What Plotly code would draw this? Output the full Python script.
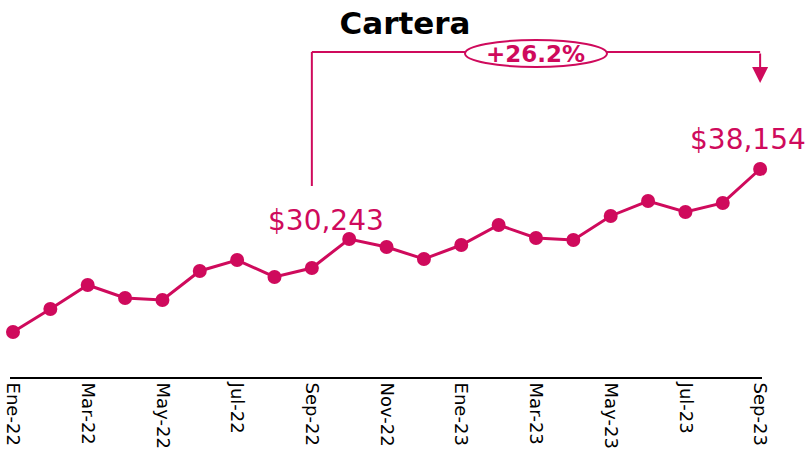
import plotly.graph_objects as go

# Monthly portfolio balance (Cartera), Jan-2022 to Sep-2023
months = ["Ene-22", "Feb-22", "Mar-22", "Abr-22", "May-22", "Jun-22", "Jul-22",
          "Ago-22", "Sep-22", "Oct-22", "Nov-22", "Dic-22", "Ene-23", "Feb-23",
          "Mar-23", "Abr-23", "May-23", "Jun-23", "Jul-23", "Ago-23", "Sep-23"]
cartera = [25130, 26970, 28885, 27845, 27685, 30005, 30880, 29525, 30243, 32560,
           31920, 30960, 32080, 33680, 32640, 32480, 34400, 35595, 34715, 35440, 38154]
tick_labels = months[::2]
growth_label = "+26.2%"

PINK = "#CF0A5C"
FONT = "DejaVu Sans"

W, H = 810, 456
M_L, M_R, M_T, M_B = 10, 48, 0, 79
PLOT_H = H - M_T - M_B


def paper_y(px):
    """Vertical position in paper units from a pixel row of the page."""
    return 1 - (px - M_T) / PLOT_H


i_start, i_end = 8, len(months) - 1

fig = go.Figure()
fig.add_trace(go.Scatter(
    x=list(range(len(months))), y=cartera, mode="lines+markers",
    line=dict(color=PINK, width=3),
    marker=dict(color=PINK, size=14),
    cliponaxis=False,
    hoverinfo="skip",
))

# Bracket comparing Sep-22 with Sep-23
shapes = [
    dict(type="line", xref="x", yref="paper", x0=i_start, x1=i_start,
         y0=paper_y(186), y1=paper_y(52), line=dict(color=PINK, width=2)),
    dict(type="line", xref="x", yref="paper", x0=i_start, x1=i_end,
         y0=paper_y(52), y1=paper_y(52), line=dict(color=PINK, width=2)),
    dict(type="circle", xref="x", yref="paper", x0=12.1, x1=15.9,
         y0=paper_y(67), y1=paper_y(40), fillcolor="white",
         line=dict(color=PINK, width=2)),
]

annotations = [
    dict(x=i_end, y=paper_y(83), xref="x", yref="paper", showarrow=True,
         ax=0, ay=-31, axref="pixel", ayref="pixel", arrowhead=2,
         arrowsize=1.6, arrowwidth=2, arrowcolor=PINK, text="", standoff=0),
    dict(x=14, y=paper_y(54), xref="x", yref="paper", text=f"<b>{growth_label}</b>",
         xanchor="center", yanchor="middle", showarrow=False,
         font=dict(family=FONT, size=23, color=PINK)),
    dict(x=i_start, y=cartera[i_start], xref="x", yref="y",
         text=f"${cartera[i_start]:,}", showarrow=False, xshift=14, yshift=48,
         xanchor="center", yanchor="middle",
         font=dict(family=FONT, size=28, color=PINK)),
    dict(x=i_end, y=cartera[i_end], xref="x", yref="y",
         text=f"${cartera[i_end]:,}", showarrow=False, xshift=-12, yshift=29,
         xanchor="center", yanchor="middle",
         font=dict(family=FONT, size=28, color=PINK)),
]

fig.update_layout(
    width=W, height=H,
    margin=dict(l=M_L, r=M_R, t=M_T, b=M_B),
    paper_bgcolor="white", plot_bgcolor="white",
    showlegend=False,
    title=dict(text="<b>Cartera</b>", x=0.5, xref="container", xanchor="center",
               y=1 - 23 / H, yref="container", yanchor="middle",
               font=dict(family=FONT, size=31, color="black")),
    font=dict(family=FONT, color="black"),
    shapes=shapes,
    annotations=annotations,
)
fig.update_xaxes(
    range=[-0.08, 20.05],
    tickvals=list(range(0, len(months), 2)), ticktext=tick_labels,
    tickangle=90, tickfont=dict(family=FONT, size=18, color="black"),
    showline=True, linecolor="black", linewidth=2,
    showgrid=False, zeroline=False, ticks="",
)
fig.update_yaxes(range=[21534, 51656], visible=False, showgrid=False)

fig.write_html("out.html")
